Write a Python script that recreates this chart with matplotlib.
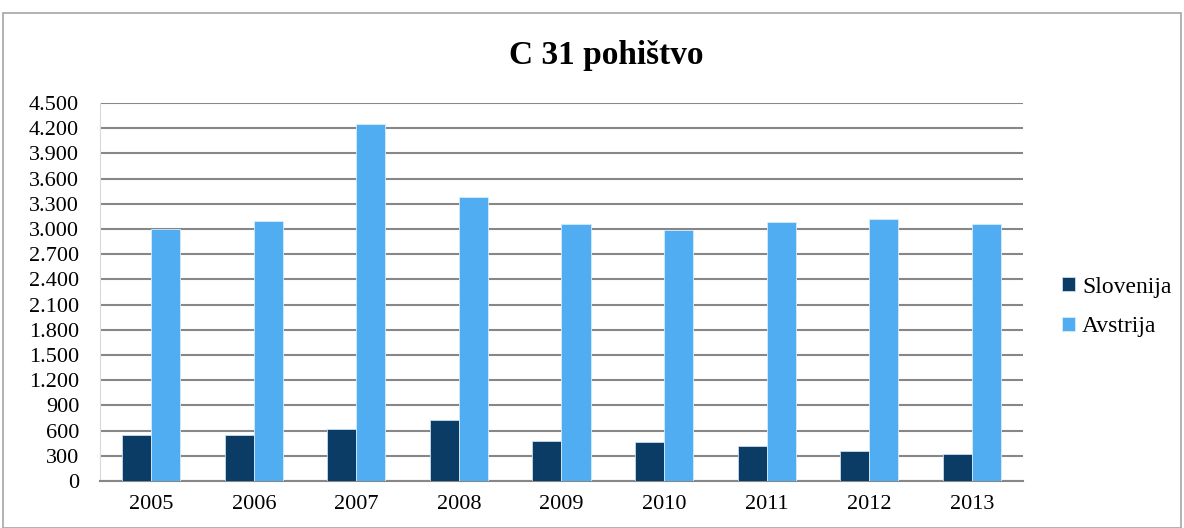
import matplotlib
matplotlib.use("Agg")
import matplotlib.pyplot as plt
from matplotlib.patches import Rectangle
from matplotlib.ticker import FixedLocator
import numpy as np

years = ["2005", "2006", "2007", "2008", "2009", "2010", "2011", "2012", "2013"]
slovenija = [550, 550, 621, 721, 478, 462, 414, 362, 327]
avstrija = [3000, 3095, 4249, 3385, 3054, 2991, 3086, 3122, 3058]
yticks = list(range(0, 4501, 300))
ytick_labels = ["0" if v == 0 else f"{v:,}".replace(",", ".") for v in yticks]

plt.rcParams['font.family'] = ['Liberation Serif', 'DejaVu Serif']

W, H = 1184, 528
fig = plt.figure(figsize=(W / 100, H / 100), dpi=100)
fig.patch.set_facecolor("white")

# outer chart border
fig.patches.append(Rectangle((3 / W, 0), (1181 - 3) / W, (H - 13) / H,
                             transform=fig.transFigure, fill=False,
                             edgecolor="#a6a6a6", linewidth=1.2))

left, right, top, bottom = 100, 1023, 103, 481
ax = fig.add_axes([left / W, 1 - bottom / H, (right - left) / W, (bottom - top) / H])

x = np.arange(len(years))
bw = 0.283
ax.bar(x - bw / 2, slovenija, bw, color="#0a3c66", edgecolor="#c9dcef",
       linewidth=0.6, label="Slovenija", zorder=3)
ax.bar(x + bw / 2, avstrija, bw, color="#50adf2", edgecolor="#d6ebfb",
       linewidth=0.6, label="Avstrija", zorder=3)

ax.set_xlim(-0.5, len(years) - 0.5)
ax.set_ylim(0, 4500)
ax.yaxis.set_major_locator(FixedLocator(yticks))
ax.set_yticklabels(ytick_labels)
ax.set_xticks(x)
ax.set_xticklabels(years)
ax.grid(axis="y", color="#878787", linewidth=1.5, zorder=0)
ax.tick_params(axis="both", length=0, labelsize=16, colors="black")
ax.tick_params(axis="y", pad=15)
ax.tick_params(axis="x", pad=10)
for s in ["top", "right"]:
    ax.spines[s].set_visible(False)
ax.spines["left"].set_color("#d9d9d9")
ax.spines["bottom"].set_color("#878787")
ax.spines["bottom"].set_linewidth(1.5)

fig.text(606 / W, 1 - 64 / H, "C 31 pohištvo", ha="center", va="baseline",
         fontsize=24, fontweight="bold")

leg = fig.legend(loc="center left", bbox_to_anchor=(1062 / W, 1 - 307 / H),
                 frameon=False, fontsize=17, handlelength=0.55, handleheight=0.55,
                 handletextpad=0.3, labelspacing=0.8, borderpad=0, borderaxespad=0)

fig.savefig("out.png", dpi=100)
